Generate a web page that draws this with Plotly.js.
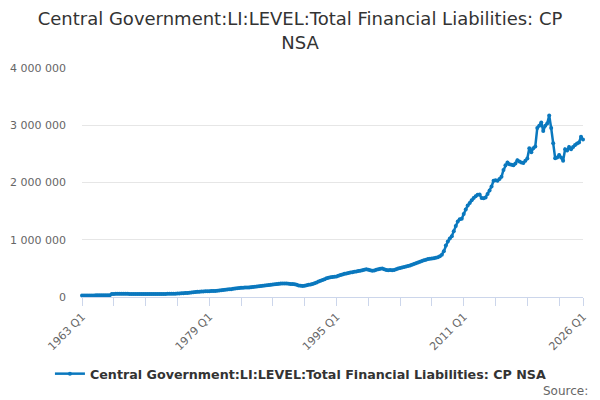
<!DOCTYPE html>
<html>
<head>
<meta charset="utf-8">
<script src="https://cdn.plot.ly/plotly-3.0.1.min.js"></script>
<style>
  html, body { margin: 0; padding: 0; background: #fff; }
  #myDiv { width: 600px; height: 400px; }
</style>
</head>
<body>
<div id="myDiv"></div>
<script>
// quarterly series, 1963 Q1 .. 2026 Q1 (GBP million)
var firstYear = 1963;

var v1963_1972 = [
  26000, 26500, 27000, 27500,
  27500, 28000, 28000, 28500,
  28500, 29000, 29500, 29500,
  30000, 30500, 31000, 54000,
  54500, 55000, 55000, 55500,
  55500, 55000, 55500, 55000,
  54500, 54000, 54500, 54000,
  53500, 53000, 53500, 53000,
  52500, 52000, 52500, 52000,
  51500, 51000, 51500, 52000
];

var v1973_1982 = [
  52500, 53000, 54000, 55000,
  55500, 56000, 57000, 58000,
  60000, 62000, 64000, 66000,
  69000, 71000, 74000, 78000,
  82000, 86000, 90000, 93000,
  96000, 98000, 100000, 101000,
  102000, 103000, 104000, 106000,
  108000, 112000, 117000, 122000,
  127000, 131000, 134000, 137000,
  142000, 148000, 154000, 158000
];

var v1983_1992 = [
  160000, 162000, 164000, 166000,
  168000, 172000, 176000, 180000,
  184000, 188000, 192000, 196000,
  200000, 204000, 208000, 212000,
  217000, 222000, 227000, 232000,
  235000, 237000, 236000, 234000,
  231000, 228000, 225000, 221000,
  212000, 203000, 196000, 194000,
  198000, 205000, 212000, 219000,
  228000, 240000, 255000, 270000
];

var v1993_2002 = [
  284000, 298000, 312000, 326000,
  336000, 345000, 348000, 352000,
  360000, 372000, 384000, 395000,
  404000, 412000, 420000, 428000,
  434000, 440000, 446000, 452000,
  458000, 466000, 475000, 486000,
  478000, 468000, 458000, 462000,
  474000, 485000, 495000, 498000,
  486000, 472000, 468000, 470000,
  468000, 472000, 485000, 498000
];

var v2003_2012 = [
  505000, 514000, 522000, 532000,
  542000, 552000, 564000, 578000,
  590000, 604000, 616000, 628000,
  640000, 652000, 662000, 668000,
  672000, 678000, 685000, 695000,
  712000, 740000, 800000, 900000,
  970000, 1020000, 1060000, 1150000,
  1240000, 1320000, 1360000, 1365000,
  1450000, 1530000, 1600000, 1640000,
  1690000, 1730000, 1760000, 1785000
];

var v2013_2026 = [
  1790000, 1730000, 1725000, 1740000,
  1800000, 1860000, 1930000, 2030000,
  2040000, 2030000, 2060000, 2100000,
  2220000, 2300000, 2350000, 2320000,
  2310000, 2300000, 2330000, 2390000,
  2365000, 2350000, 2340000, 2380000,
  2420000, 2600000, 2530000, 2600000,
  2630000, 2950000, 2990000, 3050000,
  2900000, 2990000, 3030000, 3170000,
  2950000, 2685000, 2425000, 2435000,
  2480000, 2435000, 2380000, 2580000,
  2560000, 2620000, 2580000, 2620000,
  2655000, 2680000, 2700000, 2800000,
  2750000
];

var values = [].concat(v1963_1972, v1973_1982, v1983_1992, v1993_2002, v2003_2012, v2013_2026);

var categories = [];
for (var k = 0; k < values.length; k++) {
  categories.push((firstYear + Math.floor(k / 4)) + ' Q' + (k % 4 + 1));
}

var labelledTicks = ['1963 Q1', '1979 Q1', '1995 Q1', '2011 Q1', '2026 Q1'];

// tick marks every 16 quarters, plus the last category
var tickVals = [], tickText = [];
for (var t = 0; t < categories.length; t += 16) tickVals.push(categories[t]);
if (tickVals[tickVals.length - 1] !== categories[categories.length - 1]) tickVals.push(categories[categories.length - 1]);
tickVals.forEach(function (c) { tickText.push(labelledTicks.indexOf(c) >= 0 ? c : ''); });

var seriesName = 'Central Government:LI:LEVEL:Total Financial Liabilities: CP NSA';
var blue = '#0a78be';

var trace1 = {
  x: categories,
  y: values,
  type: 'scatter',
  mode: 'lines+markers',
  name: seriesName,
  line: { color: blue, width: 2.5 },
  marker: { color: blue, size: 4 },
  cliponaxis: false
};

var layout = {
  width: 600,
  height: 400,
  font: { family: 'DejaVu Sans', color: '#333' },
  title: {
    text: 'Central Government:LI:LEVEL:Total Financial Liabilities: CP<br>NSA',
    font: { size: 18, color: '#333' },
    x: 0.5, xanchor: 'center',
    y: 0.937, yanchor: 'top'
  },
  separators: '. ',
  margin: { l: 82, r: 17, t: 68, b: 102 },
  showlegend: true,
  legend: {
    orientation: 'h',
    x: 0.437, xanchor: 'center',
    y: -0.33, yanchor: 'middle',
    font: { size: 12.7, color: '#333', weight: 'bold' }
  },
  xaxis: {
    type: 'category',
    range: [0, categories.length - 1],
    tickmode: 'array',
    tickvals: tickVals,
    ticktext: tickText,
    tickangle: -45,
    ticks: 'outside',
    ticklen: 8,
    tickcolor: '#ccd6eb',
    showline: true,
    linecolor: '#ccd6eb',
    linewidth: 1,
    showgrid: false,
    zeroline: false,
    tickfont: { size: 11, color: '#666' }
  },
  yaxis: {
    range: [0, 4000000],
    dtick: 1000000,
    tickformat: ',d',
    gridcolor: '#e6e6e6',
    zeroline: false,
    showline: false,
    ticks: '',
    ticklabelstandoff: 15,
    tickfont: { size: 11, color: '#666' }
  },
  annotations: [{
    text: 'Source:',
    xref: 'paper', yref: 'paper',
    x: 1, xshift: 7, xanchor: 'right',
    y: -0.41, yanchor: 'middle',
    showarrow: false,
    font: { size: 12, color: '#666' }
  }],
  paper_bgcolor: '#fff',
  plot_bgcolor: '#fff'
};

Plotly.newPlot('myDiv', [trace1], layout, { displayModeBar: false });
</script>
</body>
</html>
